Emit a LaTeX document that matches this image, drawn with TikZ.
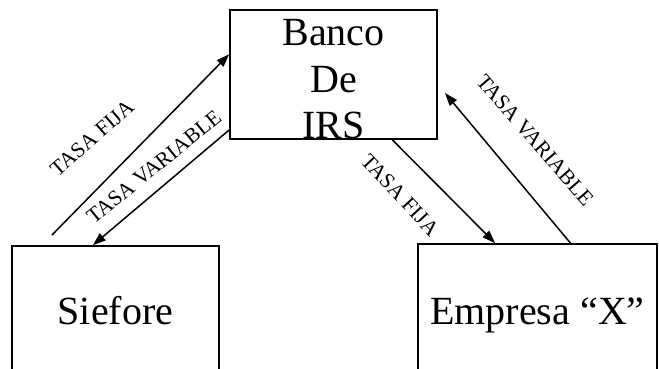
\documentclass[tikz,border=0pt]{standalone}
\usepackage{fontspec}
\setmainfont{Liberation Serif}
\usetikzlibrary{arrows.meta}
\usetikzlibrary{positioning}
\tikzset{%
    box/.style={rectangle, draw, line width=1.6pt, inner sep=0pt, font=\fontsize{40}{46.5}\selectfont},
    rate/.style={inner sep=0pt, font=\fontsize{21.5}{21.5}\selectfont},
    flow/.style={line width=1.5pt, -{Triangle[length=13pt,width=9pt]}}
}

\begin{document}
\begin{tikzpicture}[x=1pt,y=-1pt]
		\clip (0,0) rectangle (659,368);

		\node[box,minimum width=207pt,minimum height=125pt,align=center] (banco)   at (333.5,74.5) {\rule{0pt}{36pt}Banco\\De\\IRS};
		\node[box,minimum width=207pt,minimum height=130pt]              (siefore) at (115.5,311)  {Siefore};
		\node[box,minimum width=239pt,minimum height=134pt]              (empresa) at (537.5,311)  {\rule{0pt}{36pt}Empresa “X”};

		% free ends
		\coordinate (sfija) at (52,235);
		\coordinate (evar)  at (445,93);

		\path[flow]
		(sfija)        edge (banco.169.3)
		(banco.208.2)  edge (siefore.109.1)
		(banco.312.1)  edge (empresa.122.4)
		(empresa.64.1) edge (evar);

		\node[rate,rotate=41]  (fijaL) at (92,138)  {TASA FIJA};
		\node[rate,rotate=39]  (varL)  at (154,167) {TASA VARIABLE};
		\node[rate,rotate=-47] (fijaR) at (400,195) {TASA FIJA};
		\node[rate,rotate=-49] (varR)  at (535,140) {TASA VARIABLE};
	\end{tikzpicture}
\end{document}
